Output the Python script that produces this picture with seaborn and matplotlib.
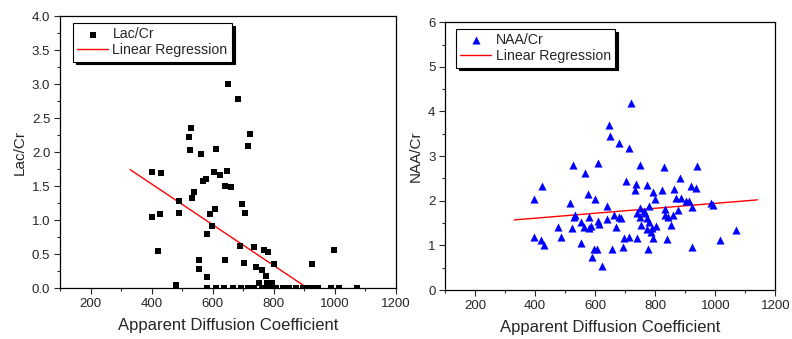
import numpy as np
import pandas as pd
import matplotlib
matplotlib.use("Agg")
import matplotlib.pyplot as plt
import seaborn as sns
from matplotlib.ticker import MultipleLocator

# --- data ---
lac_adc = [651, 682, 529, 521, 722, 526, 611, 715, 563, 401, 431, 603, 624, 648,
           569, 578, 639, 660, 539, 532, 489, 696, 608, 401, 427, 489, 590, 707,
           599, 581, 689, 421, 737, 767, 780, 996, 555, 642, 702, 802, 925, 743,
           763, 555, 580, 775, 479, 753, 778, 795,
           580, 611, 638, 666, 693, 715, 737, 760, 775, 790, 808, 830, 851, 873,
           895, 917, 928, 944, 988, 1015, 1073]
lac_cr = [3.00, 2.78, 2.36, 2.22, 2.27, 2.03, 2.05, 2.09, 1.97, 1.71, 1.70, 1.71, 1.67, 1.72,
          1.58, 1.60, 1.51, 1.49, 1.42, 1.32, 1.28, 1.24, 1.16, 1.04, 1.09, 1.10, 1.09, 1.11,
          0.91, 0.79, 0.62, 0.55, 0.60, 0.56, 0.53, 0.56, 0.42, 0.41, 0.37, 0.35, 0.35, 0.31,
          0.27, 0.28, 0.17, 0.18, 0.04, 0.07, 0.07, 0.07,
          0, 0, 0, 0, 0, 0, 0, 0, 0, 0, 0, 0, 0, 0,
          0, 0, 0, 0, 0, 0, 0]

naa_adc = [718, 646, 649, 678, 711, 527, 608, 749, 829, 939, 566, 423, 703, 737,
           733, 774, 791, 824, 884, 863, 919, 937, 576, 600, 397, 800, 870, 887,
           902, 911, 984, 993, 922, 517, 639, 750, 764, 778, 833, 877, 739, 750,
           767, 774, 833, 844, 858, 533, 530, 579, 664, 678, 687, 608, 638, 553,
           614, 778, 476, 522, 564, 587, 578, 668, 751, 789, 802, 772, 852, 787,
           397, 419, 429, 487, 697, 712, 740, 792, 840, 1070, 1014, 552, 694, 657,
           596, 607, 776, 921, 589, 621]
naa_cr = [4.19, 3.69, 3.46, 3.30, 3.19, 2.79, 2.85, 2.81, 2.75, 2.78, 2.63, 2.33, 2.44, 2.37,
          2.24, 2.36, 2.20, 2.24, 2.50, 2.26, 2.33, 2.29, 2.16, 2.05, 2.04, 2.03, 2.06, 2.07,
          2.00, 1.99, 1.96, 1.90, 1.85, 1.94, 1.88, 1.84, 1.78, 1.88, 1.82, 1.80, 1.73, 1.64,
          1.72, 1.62, 1.67, 1.63, 1.69, 1.67, 1.63, 1.63, 1.69, 1.64, 1.61, 1.54, 1.58, 1.52,
          1.47, 1.52, 1.42, 1.40, 1.41, 1.43, 1.38, 1.42, 1.45, 1.40, 1.43, 1.37, 1.46, 1.31,
          1.19, 1.12, 1.00, 1.19, 1.17, 1.19, 1.17, 1.17, 1.14, 1.34, 1.13, 1.05, 0.97, 0.93,
          0.92, 0.93, 0.91, 0.96, 0.75, 0.53]

# regression lines as drawn (intercept, slope) and x span
lac_fit = (2.733, -0.0030)
naa_fit = (1.387, 0.000555)
fit_span = [330, 1140]

sns.set_style("ticks")
plt.rcParams["font.family"] = ["Liberation Sans", "DejaVu Sans"]

fig = plt.figure(figsize=(7.92, 3.39), dpi=100)
ax1 = fig.add_axes([0.0758, 0.150, 0.424, 0.802])
ax2 = fig.add_axes([0.562, 0.1445, 0.417, 0.790])


def draw_panel(ax, adc, ratio, fit, name, marker, color, size, ylim, ymajor, yminor,
               yfmt, leg_x):
    df = pd.DataFrame({"adc": adc, "ratio": ratio})
    sns.scatterplot(data=df, x="adc", y="ratio", marker=marker, color=color, s=size,
                    edgecolor=color, linewidth=0, label=name, ax=ax, zorder=3)
    xs = np.array(fit_span, dtype=float)
    line = pd.DataFrame({"adc": xs, "ratio": fit[0] + fit[1] * xs})
    sns.lineplot(data=line, x="adc", y="ratio", color="red", linewidth=1.0,
                 label="Linear Regression", ax=ax, zorder=2)

    ax.set_xlim(100, 1200)
    ax.set_ylim(*ylim)
    ax.xaxis.set_major_locator(MultipleLocator(200))
    ax.xaxis.set_minor_locator(MultipleLocator(100))
    ax.yaxis.set_major_locator(MultipleLocator(ymajor))
    ax.yaxis.set_minor_locator(MultipleLocator(yminor))
    ax.yaxis.set_major_formatter(plt.FormatStrFormatter(yfmt))
    ax.tick_params(which="major", length=4, width=0.8, labelsize=9.5, direction="out",
                   pad=3)
    ax.tick_params(which="minor", length=2.5, width=0.8, direction="out")
    for sp in ax.spines.values():
        sp.set_visible(True)
        sp.set_color("black")
        sp.set_linewidth(0.9)
    ax.set_xlabel("Apparent Diffusion Coefficient", fontsize=12, labelpad=6)
    ax.set_ylabel(name, fontsize=11, labelpad=4)

    leg = ax.legend(loc="upper left", bbox_to_anchor=(leg_x, 0.975), borderaxespad=0,
                    fontsize=10.2, frameon=True, fancybox=False, edgecolor="black",
                    framealpha=1, shadow={"color": "black", "alpha": 1.0},
                    borderpad=0.3, handlelength=2.2, handletextpad=0.3,
                    labelspacing=0.15, markerscale=1.0)
    leg.get_frame().set_linewidth(0.8)


draw_panel(ax1, lac_adc, lac_cr, lac_fit, "Lac/Cr", "s", "black", 20,
           (0, 4.0), 0.5, 0.25, "%.1f", 0.038)
draw_panel(ax2, naa_adc, naa_cr, naa_fit, "NAA/Cr", "^", "blue", 34,
           (0, 6), 1, 0.5, "%d", 0.033)

fig.savefig("out.png", dpi=100)
